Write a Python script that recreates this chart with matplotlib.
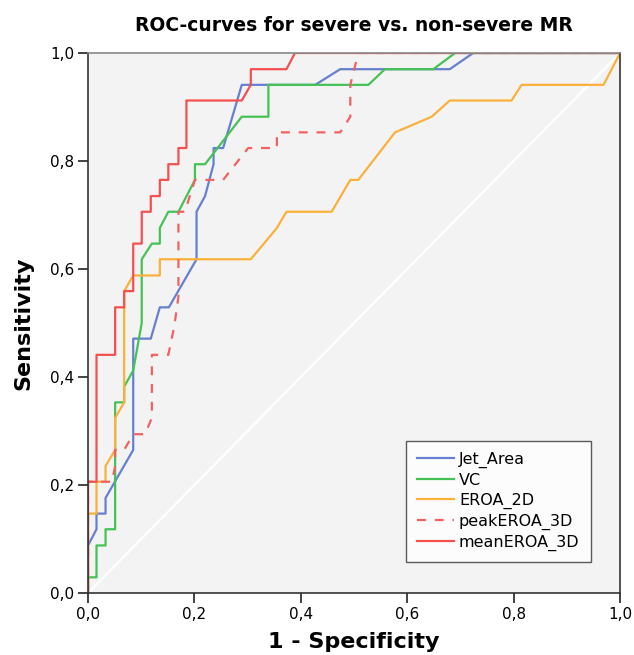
import numpy as np
import matplotlib.pyplot as plt
from matplotlib.ticker import FixedLocator

# ROC points (1 - specificity, sensitivity)
jet_fpr = [0, 0, 0.016, 0.016, 0.033, 0.033, 0.085, 0.085, 0.118, 0.135, 0.152, 0.204,
           0.204, 0.220, 0.236, 0.236, 0.254, 0.289, 0.427, 0.474, 0.680, 0.724, 1.0]
jet_tpr = [0, 0.088, 0.118, 0.147, 0.147, 0.176, 0.265, 0.471, 0.471, 0.529, 0.529, 0.618,
           0.706, 0.735, 0.794, 0.824, 0.824, 0.941, 0.941, 0.970, 0.970, 1.0, 1.0]

vc_fpr = [0, 0, 0.016, 0.016, 0.033, 0.033, 0.051, 0.051, 0.068, 0.068, 0.085, 0.101, 0.101,
          0.120, 0.135, 0.135, 0.151, 0.170, 0.201, 0.201, 0.220, 0.289, 0.339, 0.339,
          0.527, 0.558, 0.649, 0.690, 1.0]
vc_tpr = [0, 0.029, 0.029, 0.088, 0.088, 0.118, 0.118, 0.353, 0.353, 0.382, 0.412, 0.500, 0.618,
          0.647, 0.647, 0.676, 0.706, 0.706, 0.765, 0.794, 0.794, 0.882, 0.882, 0.941,
          0.941, 0.970, 0.970, 1.0, 1.0]

eroa2d_fpr = [0, 0, 0.016, 0.016, 0.033, 0.033, 0.051, 0.051, 0.068, 0.068, 0.085, 0.135,
              0.135, 0.306, 0.355, 0.373, 0.458, 0.493, 0.508, 0.577, 0.646, 0.680, 0.796,
              0.815, 0.969, 1.0]
eroa2d_tpr = [0, 0.147, 0.147, 0.206, 0.206, 0.235, 0.265, 0.324, 0.353, 0.559, 0.588, 0.588,
              0.618, 0.618, 0.676, 0.706, 0.706, 0.765, 0.765, 0.853, 0.882, 0.912, 0.912,
              0.941, 0.941, 1.0]

peak_fpr = [0, 0, 0.045, 0.051, 0.051, 0.068, 0.085, 0.107, 0.120, 0.120, 0.151, 0.162,
            0.170, 0.170, 0.182, 0.201, 0.254, 0.301, 0.355, 0.355, 0.474, 0.493, 0.493,
            0.508, 1.0]
peak_tpr = [0, 0.206, 0.206, 0.235, 0.265, 0.265, 0.294, 0.294, 0.324, 0.441, 0.441, 0.493,
            0.549, 0.706, 0.706, 0.765, 0.765, 0.824, 0.824, 0.853, 0.853, 0.882, 0.941,
            1.0, 1.0]

mean_fpr = [0, 0, 0.016, 0.016, 0.051, 0.051, 0.068, 0.068, 0.085, 0.085, 0.101, 0.101,
            0.118, 0.118, 0.135, 0.135, 0.151, 0.151, 0.170, 0.170, 0.185, 0.185, 0.289,
            0.306, 0.306, 0.373, 0.389, 1.0]
mean_tpr = [0, 0.206, 0.206, 0.441, 0.441, 0.529, 0.529, 0.559, 0.559, 0.647, 0.647, 0.706,
            0.706, 0.735, 0.735, 0.765, 0.765, 0.794, 0.794, 0.824, 0.824, 0.912, 0.912,
            0.941, 0.970, 0.970, 1.0, 1.0]

tick_vals = [0, 0.2, 0.4, 0.6, 0.8, 1.0]
tick_labels = ['0,0', '0,2', '0,4', '0,6', '0,8', '1,0']

fig = plt.figure(figsize=(6.34, 6.55), dpi=100)
ax = fig.add_axes([0.1388, 0.0947, 0.8392, 0.8244])
ax.set_facecolor('#f3f3f3')

# reference diagonal
ax.plot([0, 1], [0, 1], color='white', lw=1.6, zorder=1)

ax.plot(jet_fpr, jet_tpr, color='#6580d0', lw=1.6, label='Jet_Area')
ax.plot(vc_fpr, vc_tpr, color='#45c255', lw=1.6, label='VC')
ax.plot(eroa2d_fpr, eroa2d_tpr, color='#fbb03b', lw=1.6, label='EROA_2D')
ax.plot(peak_fpr, peak_tpr, color='#f46060', lw=1.6, ls=(0, (4, 4)), label='peakEROA_3D')
ax.plot(mean_fpr, mean_tpr, color='#f45050', lw=1.6, label='meanEROA_3D')

ax.set_xlim(0, 1)
ax.set_ylim(0, 1)
ax.xaxis.set_major_locator(FixedLocator(tick_vals))
ax.yaxis.set_major_locator(FixedLocator(tick_vals))
ax.set_xticklabels(tick_labels, fontsize=11)
ax.set_yticklabels(tick_labels, fontsize=11)
ax.tick_params(direction='out', length=7, width=1.2, color='#222222', pad=3)

for s in ['left', 'bottom', 'right']:
    ax.spines[s].set_color('#333333')
    ax.spines[s].set_linewidth(1.2)
ax.spines['top'].set_color('#888888')
ax.spines['top'].set_linewidth(1.2)

ax.set_title('ROC-curves for severe vs. non-severe MR', fontsize=13.5,
             fontweight='bold', pad=16)
ax.set_xlabel('1 - Specificity', fontsize=16, fontweight='bold', labelpad=7)
ax.set_ylabel('Sensitivity', fontsize=16, fontweight='bold', labelpad=12)

leg = ax.legend(loc='lower right', bbox_to_anchor=(0.945, 0.057), fontsize=11.5,
                frameon=True, fancybox=False, edgecolor='#333333',
                handlelength=2.3, handletextpad=0.3, labelspacing=0.3,
                borderpad=0.7, borderaxespad=0)
leg.get_frame().set_linewidth(1.0)
leg.get_frame().set_facecolor('white')

fig.savefig('out.png', dpi=100)
